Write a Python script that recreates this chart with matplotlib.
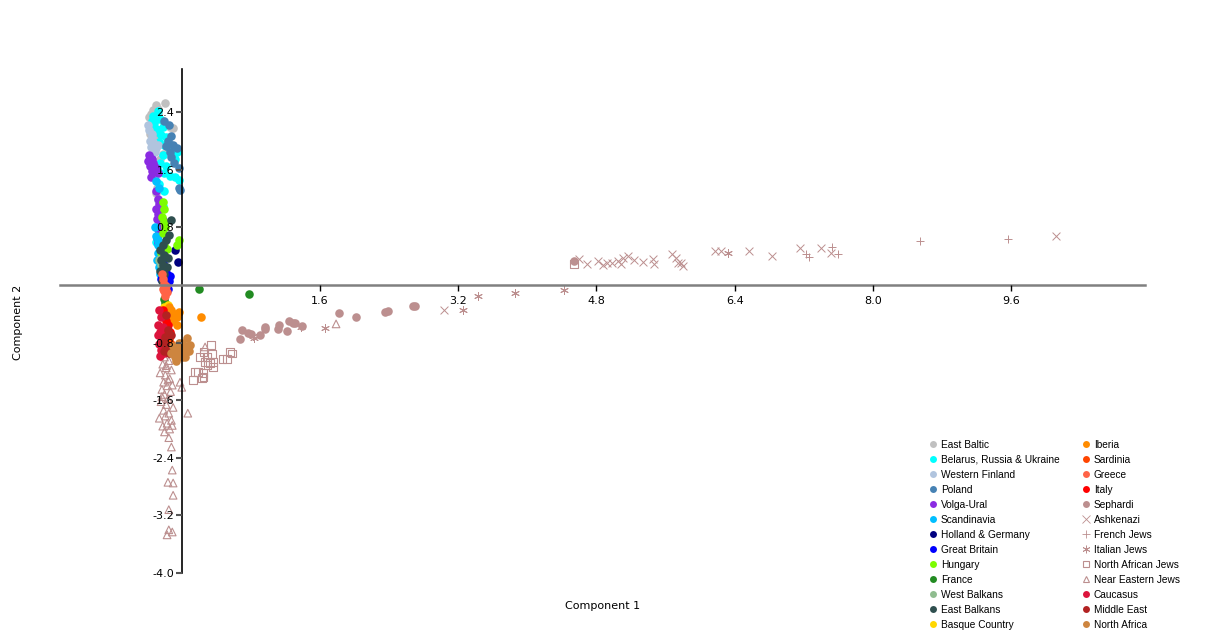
import matplotlib.pyplot as plt
from matplotlib.lines import Line2D

# ---- data ----
east_baltic_x = [-0.30, -0.19, -0.33, -0.36, -0.27, -0.38, -0.31, -0.22, -0.14, -0.10, -0.35, -0.26,
                 -0.37, -0.30, -0.16, -0.10, -0.22, -0.25, -0.29, -0.30, -0.34, -0.28, -0.12]
east_baltic_y = [2.50, 2.53, 2.43, 2.38, 2.37, 2.33, 2.29, 2.28, 2.20, 2.18, 2.20, 2.16,
                 2.10, 2.05, 1.90, 1.78, 1.82, 1.75, 1.35, 1.28, 2.26, 2.44, 1.95]

belarus_x = [-0.28, -0.33, -0.25, -0.32, -0.22, -0.28, -0.30, -0.24, -0.18, -0.26, -0.20, -0.15,
             -0.10, -0.05, -0.22, -0.08, -0.25, -0.18, -0.28, -0.20, -0.14, -0.08, -0.03, -0.26,
             -0.20, -0.22, -0.28, -0.30, -0.35, -0.31]
belarus_y = [2.42, 2.35, 2.30, 2.25, 2.20, 2.15, 2.12, 2.08, 2.05, 1.98, 1.95, 1.90,
             1.88, 1.85, 1.80, 1.75, 1.70, 1.65, 1.58, 1.55, 1.52, 1.50, 1.46, 1.40,
             1.30, 1.10, 0.70, 0.60, 2.28, 2.18]

western_finland_x = [-0.38, -0.35, -0.33, -0.36, -0.30, -0.28, -0.37, -0.31, -0.34, -0.28, -0.30, -0.39]
western_finland_y = [2.15, 2.05, 1.98, 1.92, 1.90, 1.95, 2.00, 1.85, 2.10, 1.18, 1.55, 2.22]

poland_x = [-0.15, -0.13, -0.10, -0.18, -0.12, -0.06, -0.03, -0.03, -0.09, -0.20, -0.16, -0.22, -0.02, -0.14]
poland_y = [2.22, 2.07, 1.95, 1.93, 1.78, 1.90, 1.62, 1.35, 1.70, 2.28, 2.00, 0.55, 1.32, 1.85]

volga_ural_x = [-0.38, -0.35, -0.33, -0.37, -0.30, -0.34, -0.28, -0.36, -0.30, -0.28, -0.26, -0.30,
                -0.27, -0.29, -0.25, -0.28, -0.26, -0.29, -0.27, -0.24, -0.22, -0.39, -0.32]
volga_ural_y = [1.80, 1.75, 1.70, 1.65, 1.62, 1.58, 1.55, 1.50, 1.30, 1.20, 1.12, 1.05,
                0.98, 0.92, 0.85, 0.78, 0.72, 0.65, 0.58, 0.75, 0.90, 1.72, 1.66]

scandinavia_x = [-0.31, -0.30, -0.28, -0.27, -0.29, -0.26, -0.28, -0.30, -0.26, -0.25]
scandinavia_y = [0.80, 0.68, 0.55, 0.45, 0.35, 0.25, 0.62, 1.45, 1.35, 0.15]

holland_germany_x = [-0.08, -0.04, -0.22, -0.18, -0.20]
holland_germany_y = [0.48, 0.32, 0.10, 0.00, 0.05]

great_britain_x = [-0.22, -0.19, -0.17, -0.20, -0.15, -0.18, -0.16, -0.21, -0.24, -0.14]
great_britain_y = [0.30, 0.22, 0.15, 0.10, 0.05, 0.00, -0.05, 0.18, 0.08, 0.12]

hungary_x = [-0.22, -0.20, -0.23, -0.21, -0.19, -0.22, -0.20, -0.17, -0.24, -0.20, -0.03, -0.05]
hungary_y = [1.15, 1.05, 0.95, 0.88, 0.80, 0.72, 0.55, 0.50, 0.45, 0.42, 0.62, 0.56]

france_x = [0.20, 0.78, -0.20, -0.19]
france_y = [-0.06, -0.13, -0.20, -0.25]

west_balkans_x = [-0.26, -0.24, -0.25]
west_balkans_y = [0.35, 0.28, 0.36]

east_balkans_x = [-0.13, -0.15, -0.18, -0.22, -0.25, -0.20, -0.16, -0.24, -0.22, -0.25, -0.20, -0.23, -0.17]
east_balkans_y = [0.90, 0.70, 0.62, 0.55, 0.48, 0.42, 0.38, 0.35, 0.28, 0.20, 0.15, 0.05, 0.25]

basque_x = [-0.20, -0.18, -0.22, -0.16, -0.20, -0.14]
basque_y = [-0.30, -0.35, -0.40, -0.28, -0.45, -0.45]

iberia_x = [-0.15, -0.12, -0.08, -0.05, -0.10, -0.06, -0.12, 0.22, -0.03]
iberia_y = [-0.30, -0.35, -0.40, -0.45, -0.50, -0.55, -0.42, -0.44, -0.38]

sardinia_x = [-0.17, -0.15, -0.13, -0.12, -0.16]
sardinia_y = [-0.65, -0.75, -0.82, -0.88, -0.80]

greece_x = [-0.23, -0.22, -0.20, -0.18, -0.21, -0.17, -0.19, -0.22]
greece_y = [0.15, 0.08, 0.02, -0.02, -0.08, -0.10, -0.15, -0.05]

italy_x = [-0.22, -0.18, -0.20, -0.16, -0.22, -0.14]
italy_y = [-0.35, -0.50, -0.60, -0.55, -0.70, -0.65]

sephardi_x = [0.675, 0.698, 0.767, 0.802, 0.906, 0.964, 0.964, 1.115, 1.126, 1.219, 1.242, 1.288,
              1.311, 1.392, 1.821, 2.017, 2.353, 2.388, 2.677, 2.700, 4.542]
sephardi_y = [-0.75, -0.625, -0.667, -0.68, -0.694, -0.583, -0.611, -0.611, -0.556, -0.639, -0.50, -0.528,
              -0.528, -0.569, -0.389, -0.444, -0.375, -0.361, -0.292, -0.292, 0.333]

ashkenazi_x = [3.035, 4.60, 4.69, 4.82, 4.877, 4.92, 4.98, 5.05, 5.085, 5.11, 5.165, 5.235, 5.34,
               5.455, 5.47, 5.675, 5.72, 5.745, 5.80, 5.78, 6.17, 6.24, 6.56, 6.83, 7.155, 7.40,
               7.52, 10.12]
ashkenazi_y = [-0.347, 0.361, 0.29, 0.333, 0.278, 0.306, 0.306, 0.333, 0.29, 0.375, 0.403, 0.347, 0.32,
               0.361, 0.29, 0.43, 0.375, 0.306, 0.264, 0.306, 0.47, 0.47, 0.47, 0.40, 0.51, 0.51,
               0.44, 0.68]

french_jews_x = [7.226, 7.26, 7.53, 7.60, 8.54, 9.56]
french_jews_y = [0.43, 0.39, 0.53, 0.43, 0.61, 0.64]

italian_jews_x = [0.825, 0.837, 1.38, 1.66, 3.256, 3.43, 3.858, 4.425, 6.32]
italian_jews_y = [-0.71, -0.74, -0.58, -0.60, -0.347, -0.153, -0.111, -0.069, 0.444]

na_jews_x = [0.34, 0.25, 0.29, 0.35, 0.365, 0.33, 0.27, 0.21, 0.47, 0.525, 0.56, 0.58, 0.155, 0.19,
             0.25, 0.25, 0.235, 0.13, 0.30, 0.365, 4.54]
na_jews_y = [-0.83, -0.93, -1.00, -0.96, -1.07, -1.08, -1.07, -1.00, -1.03, -1.03, -0.93, -0.95, -1.21, -1.21,
             -1.22, -1.28, -1.29, -1.32, -1.11, -1.14, 0.29]

ne_jews_x = [0.27, 1.786, -0.02, 0.07, 0.00, -0.11, -0.15, -0.12, -0.11, -0.16, -0.10, -0.10, -0.15,
             -0.15, -0.17, -0.11,
             -0.20, -0.15, -0.22, -0.18, -0.12, -0.25, -0.19, -0.14, -0.21, -0.17, -0.23, -0.13,
             -0.20, -0.16, -0.24, -0.18, -0.10, -0.21, -0.15, -0.19, -0.26, -0.12, -0.17, -0.22,
             -0.14, -0.20, -0.18, -0.16, -0.23, -0.11]
ne_jews_y = [-0.86, -0.54, -1.35, -1.78, -1.42, -1.39, -2.12, -2.25, -2.57, -2.74, -2.75, -2.92, -3.12,
             -3.40, -3.47, -3.43,
             -1.00, -1.05, -1.10, -1.15, -1.18, -1.22, -1.25, -1.30, -1.35, -1.40, -1.45, -1.48,
             -1.52, -1.58, -1.62, -1.66, -1.70, -1.74, -1.78, -1.82, -1.85, -1.88, -1.92, -1.96,
             -2.00, -2.04, -1.12, -1.32, -1.55, -1.95]

caucasus_x = [-0.26, -0.24, -0.27, -0.25, -0.23, -0.26, -0.24, -0.21, -0.27, -0.22, -0.25, -0.20]
caucasus_y = [-0.35, -0.45, -0.55, -0.65, -0.75, -0.82, -0.90, -0.95, -0.70, -0.58, -0.98, -0.88]

middle_east_x = [-0.18, -0.16, -0.19, -0.17, -0.20, -0.15, -0.12, -0.22, -0.14]
middle_east_y = [-0.42, -0.62, -0.72, -0.85, -0.92, -0.95, -0.70, -0.80, -0.88]

north_africa_x = [-0.10, -0.05, -0.08, -0.12, -0.03, -0.02, 0.06, 0.08, 0.06, 0.02, -0.07, 0.00, 0.09,
                  0.05, 0.04, 0.00, -0.04]
north_africa_y = [-0.85, -0.92, -1.00, -0.95, -0.80, -0.88, -0.73, -0.92, -0.84, -0.98, -1.05, -0.80, -0.83,
                  -0.93, -1.00, -1.00, -0.96]

x_ticks = [1.6, 3.2, 4.8, 6.4, 8.0, 9.6]
y_ticks = [2.4, 1.6, 0.8, -0.8, -1.6, -2.4, -3.2, -4.0]

rb = "#bc8f8f"
groups = [
    ("East Baltic", east_baltic_x, east_baltic_y, "o", "#c0c0c0"),
    ("Belarus, Russia & Ukraine", belarus_x, belarus_y, "o", "#00ffff"),
    ("Western Finland", western_finland_x, western_finland_y, "o", "#b0c4de"),
    ("Poland", poland_x, poland_y, "o", "#4682b4"),
    ("Volga-Ural", volga_ural_x, volga_ural_y, "o", "#8a2be2"),
    ("Scandinavia", scandinavia_x, scandinavia_y, "o", "#00bfff"),
    ("Holland & Germany", holland_germany_x, holland_germany_y, "o", "#000080"),
    ("Great Britain", great_britain_x, great_britain_y, "o", "#0000ff"),
    ("Hungary", hungary_x, hungary_y, "o", "#7cfc00"),
    ("France", france_x, france_y, "o", "#228b22"),
    ("West Balkans", west_balkans_x, west_balkans_y, "o", "#8fbc8f"),
    ("East Balkans", east_balkans_x, east_balkans_y, "o", "#2f4f4f"),
    ("Basque Country", basque_x, basque_y, "o", "#ffd700"),
    ("Iberia", iberia_x, iberia_y, "o", "#ff8c00"),
    ("Sardinia", sardinia_x, sardinia_y, "o", "#ff4500"),
    ("Greece", greece_x, greece_y, "o", "#ff6347"),
    ("Italy", italy_x, italy_y, "o", "#ff0000"),
    ("Sephardi", sephardi_x, sephardi_y, "o", rb),
    ("Ashkenazi", ashkenazi_x, ashkenazi_y, "x", rb),
    ("French Jews", french_jews_x, french_jews_y, "+", rb),
    ("Italian Jews", italian_jews_x, italian_jews_y, (6, 2, 0), rb),
    ("North African Jews", na_jews_x, na_jews_y, "s", rb),
    ("Near Eastern Jews", ne_jews_x, ne_jews_y, "^", rb),
    ("Caucasus", caucasus_x, caucasus_y, "o", "#dc143c"),
    ("Middle East", middle_east_x, middle_east_y, "o", "#b22222"),
    ("North Africa", north_africa_x, north_africa_y, "o", "#cd853f"),
]
hollow = {"s", "^"}
lined = {"x", "+"}

fig = plt.figure(figsize=(12.06, 6.44), dpi=100)
ax = fig.add_axes([0.0497, 0.1102, 0.8998, 0.7826])
ax.set_axisbelow(False)  # tick labels and axis lines sit over the dots

handles = []
for label, xs, ys, mk, col in groups:
    if mk in hollow:
        ax.scatter(xs, ys, marker=mk, s=30, facecolors="none", edgecolors=col, linewidths=0.8, zorder=1)
        h = Line2D([], [], marker=mk, ls="none", markersize=5, markerfacecolor="none",
                   markeredgecolor=col, markeredgewidth=0.8)
    elif mk in lined or isinstance(mk, tuple):
        ax.scatter(xs, ys, marker=mk, s=32, c=col, linewidths=0.7, zorder=1)
        h = Line2D([], [], marker=mk, ls="none", markersize=5.5, color=col, markeredgewidth=0.6)
    else:
        ax.scatter(xs, ys, marker=mk, s=38, c=col, linewidths=0, zorder=1)
        h = Line2D([], [], marker=mk, ls="none", markersize=5, color=col, markeredgewidth=0)
    handles.append((h, label))

ax.set_xlim(-1.41, 11.15)
ax.set_ylim(-4.0, 3.0)
for side in ["top", "right"]:
    ax.spines[side].set_visible(False)
ax.spines["left"].set_position(("data", 0))
ax.spines["bottom"].set_position(("data", 0))
ax.spines["left"].set_bounds(-4.0, 3.0)
ax.spines["left"].set_linewidth(1.2)
ax.spines["left"].set_color("black")
ax.spines["bottom"].set_color("#808080")
ax.spines["bottom"].set_linewidth(1.8)

ax.set_xticks(x_ticks)
ax.set_xticklabels([f"{v:.1f}" for v in x_ticks])
ax.set_yticks(y_ticks)
ax.set_yticklabels([f"{v:.1f}" for v in y_ticks])
ax.tick_params(axis="x", direction="out", length=4, width=1, pad=4, labelsize=8, color="black")
ax.tick_params(axis="y", direction="out", length=4, width=1.5, pad=1.5, labelsize=8, color="#555555")

fig.text(0.5, 0.059, "Component 1", ha="center", va="center", fontsize=8)
fig.text(0.015, 0.5, "Component 2", ha="center", va="center", rotation=90, fontsize=8)

leg_kw = dict(frameon=False, prop={"family": "Liberation Sans", "size": 7.3}, handlelength=0.6,
              handletextpad=0.45, labelspacing=0.49, borderpad=0, borderaxespad=0, loc="upper left")
leg1 = fig.legend([h for h, _ in handles[:13]], [l for _, l in handles[:13]],
                  bbox_to_anchor=(930 / 1206, 1 - 440 / 644), **leg_kw)
leg2 = fig.legend([h for h, _ in handles[13:]], [l for _, l in handles[13:]],
                  bbox_to_anchor=(1083 / 1206, 1 - 440 / 644), **leg_kw)

fig.savefig("out.png", dpi=100)
